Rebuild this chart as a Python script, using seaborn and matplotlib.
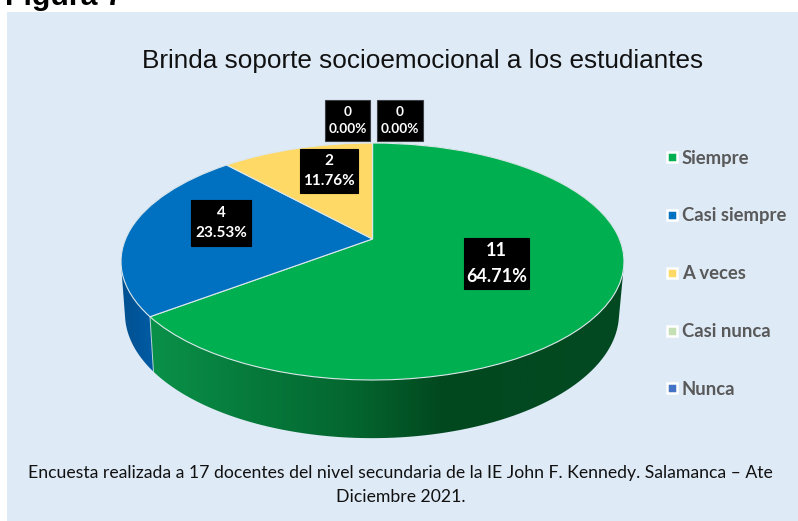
import numpy as np
import matplotlib
matplotlib.use('Agg')
import matplotlib.pyplot as plt
import matplotlib.transforms as mtransforms
from matplotlib.colors import LinearSegmentedColormap
from matplotlib.lines import Line2D
from matplotlib.patches import Polygon, Rectangle
import seaborn as sns

categories = ['Siempre', 'Casi siempre', 'A veces', 'Casi nunca', 'Nunca']
counts = [11, 4, 2, 0, 0]
title = 'Brinda soporte socioemocional a los estudiantes'
footer = ('Encuesta realizada a 17 docentes del nivel secundaria de la IE John F. Kennedy. '
          'Salamanca \u2013 Ate\nDiciembre 2021.')
slice_colors = ['#00B050', '#0070C0', '#FFD966', '#C5E0B4', '#4472C4']

# label boxes in pixels: x0, y0, x1, y1, font size
label_boxes = [(464, 238, 529, 289, 13), (191, 200, 251, 246, 11), (300, 149, 358, 193, 11),
               (325, 100, 370, 141, 9.8), (377, 100, 423, 141, 9.8)]

W, H = 798, 521
PANEL = '#DEEAF6'


class Perspective(mtransforms.Transform):
    # unit circle -> tilted disc in pixel coords
    input_dims = 2
    output_dims = 2
    is_separable = False
    has_inverse = False

    def __init__(self, cx=372.5, cy=239.0, a=246.9, b=114.2, k=0.19):
        super().__init__()
        self.cx, self.cy, self.a, self.b, self.k = cx, cy, a, b, k

    def transform_non_affine(self, values):
        values = np.asarray(values)
        w = 1 + self.k * values[:, 1]
        return np.column_stack([self.cx + self.a * values[:, 0] / w,
                                self.cy - self.b * values[:, 1] / w])


top = Perspective()
bottom = Perspective(cx=372.0, cy=290.0, a=242.5, b=120.0)


def rim(disc, start, stop):
    t = np.radians(np.linspace(start, stop, 160))
    return disc.transform_non_affine(np.column_stack([np.cos(t), np.sin(t)]))


def hull(points):
    # monotone chain, so the wall silhouette runs straight from top rim to bottom rim
    pts = sorted(map(tuple, points))
    def half(seq):
        out = []
        for p in seq:
            while len(out) > 1 and ((out[-1][0] - out[-2][0]) * (p[1] - out[-2][1])
                                    - (out[-1][1] - out[-2][1]) * (p[0] - out[-2][0])) <= 0:
                out.pop()
            out.append(p)
        return out[:-1]
    return np.array(half(pts) + half(pts[::-1]))


def draw_wall(ax, start, stop, stops, zorder):
    xy = hull(np.vstack([rim(top, start, stop), rim(bottom, start, stop)]))
    cmap = LinearSegmentedColormap.from_list('wall', stops)
    im = ax.imshow(np.linspace(0, 1, 512).reshape(1, -1), cmap=cmap, aspect='auto',
                   extent=(120, 625, 460, 140), zorder=zorder)
    im.set_clip_path(Polygon(xy, closed=True, transform=ax.transData))


sns.set_theme(style='white')
plt.rcParams['font.family'] = ['Lato', 'DejaVu Sans']
palette = sns.color_palette(slice_colors)

fig = plt.figure(figsize=(W / 100, H / 100), dpi=100, facecolor='white')
ax = fig.add_axes([0, 0, 1, 1])

wedges, _ = ax.pie(counts, colors=palette, startangle=90, counterclock=False,
                   wedgeprops={'edgecolor': '#DDE8EC', 'linewidth': 0.8})
for w in wedges:
    w.set_transform(top + ax.transData)
    w.set_zorder(3)

ax.add_patch(Rectangle((7, 12), W - 7, H - 12, facecolor=PANEL, edgecolor='none', zorder=0))

# side wall, angles follow the counts; blue goes under green
total = sum(counts)
green_end = 90 - 360 * counts[0] / total
blue_end = green_end - 360 * counts[1] / total
draw_wall(ax, green_end, blue_end, [(0, '#00508F'), (0.07, '#005CA6'), (1, '#004F8C')], 1.5)
draw_wall(ax, 90, green_end, [(0, '#00612F'), (0.06, '#0A9149'), (0.26, '#067A3B'),
                              (0.46, '#04662F'), (0.64, '#02481F'), (1, '#024A22')], 2)
seam_top = rim(top, green_end, green_end)[0]
seam_bottom = rim(bottom, green_end, green_end)[0]
ax.plot([seam_top[0], seam_bottom[0]], [seam_top[1], seam_bottom[1]],
        color='#B9D6D8', lw=0.7, zorder=2.5)

for n, (x0, y0, x1, y1, size) in zip(counts, label_boxes):
    ax.add_patch(Rectangle((x0, y0), x1 - x0, y1 - y0, facecolor='black', linewidth=0.8,
                           edgecolor='#3B4046' if n == 0 else 'black', zorder=4))
    ax.text((x0 + x1) / 2, (y0 + y1) / 2, f'{n}\n{n / total:.2%}', color='white', fontsize=size,
            fontweight='bold', ha='center', va='center', linespacing=1.58, zorder=5)

ax.text(423, 68, title, family=['Liberation Sans'], fontsize=18.77, color='#111111',
        ha='center', va='baseline', zorder=5)
ax.text(5, 5, 'Figura 7', family=['Liberation Sans'], fontsize=21.8, fontweight='bold',
        color='black', ha='left', va='baseline', zorder=5)
ax.text(400.5, 485, footer, fontsize=12.7, color='#111111', ha='center', va='center',
        linespacing=1.6, zorder=5)

handles = [Line2D([], [], linestyle='none', marker='s', markersize=7.6, markerfacecolor=c,
                  markeredgecolor='white', markeredgewidth=1.8) for c in palette]
leg = ax.legend(handles, categories, loc='upper left', bbox_to_anchor=(665.5 / W, 1 - 149.5 / H),
                bbox_transform=fig.transFigure, frameon=False, fontsize=13.3, labelspacing=2.21,
                handlelength=0.7, handletextpad=0.19, borderaxespad=0, borderpad=0)
for t in leg.get_texts():
    t.set_color('#595959')
    t.set_fontweight('bold')
leg.set_zorder(5)

ax.set_aspect('auto')
ax.set_xlim(0, W)
ax.set_ylim(H, 0)
ax.axis('off')

fig.savefig('out.png', dpi=100, facecolor='white')
